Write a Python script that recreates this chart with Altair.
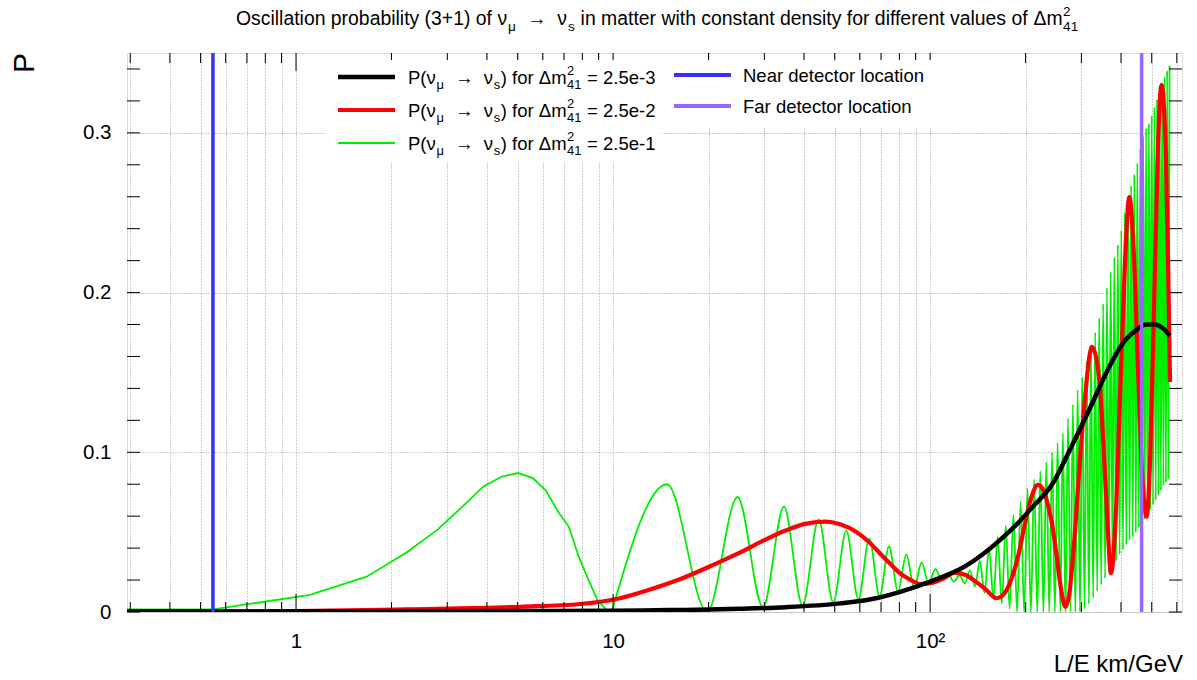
import altair as alt
import pandas as pd

FONT = "Liberation Sans"
W, H = 1055, 559            # plot frame size in pixels
X_DOMAIN = [0.293, 623]     # L/E range (log axis)
Y_DOMAIN = [0, 0.35]

# ---------------- data ----------------
black_le = [0.293, 1, 5, 10, 15, 20, 25, 35, 52, 65, 80, 100, 130, 166, 190, 211, 241,
            283, 320, 358, 390, 416, 450, 480, 510, 540, 571]
black_p = [0.0003, 0.0004, 0.0006, 0.0008, 0.0012, 0.0015, 0.002, 0.003, 0.0054, 0.008,
           0.0125, 0.019, 0.029, 0.045, 0.056, 0.066, 0.079, 0.106, 0.128, 0.149, 0.163,
           0.171, 0.177, 0.180, 0.180, 0.178, 0.173]

red_le = [0.293, 1, 2.23, 5.1, 7.9, 10.5, 12.8, 16, 20.7, 25, 30, 35, 40, 46.7, 52, 58.7,
          64, 69.4, 75, 80.3, 87, 93.4, 101.9, 110, 119.8, 130, 139.4, 150, 162, 172, 180,
          190, 198, 208, 218.7, 228, 236, 242, 250, 258, 267, 275, 285, 298, 310, 318, 324,
          335, 345, 352, 358, 365, 372, 385, 398, 412, 425, 440, 453, 467, 482, 495, 509,
          523, 537, 545, 555, 563, 571]
red_p = [0.0, 0.0005, 0.0017, 0.0033, 0.005, 0.0086, 0.0135, 0.02, 0.0295, 0.037, 0.045,
         0.051, 0.055, 0.0566, 0.055, 0.050, 0.044, 0.0368, 0.030, 0.0243, 0.020, 0.0175,
         0.0184, 0.021, 0.0247, 0.023, 0.019, 0.014, 0.0086, 0.012, 0.020, 0.036, 0.053,
         0.071, 0.0796, 0.076, 0.066, 0.056, 0.037, 0.016, 0.0033, 0.012, 0.045, 0.0995,
         0.14, 0.16, 0.166, 0.158, 0.135, 0.105, 0.078, 0.045, 0.0243, 0.06, 0.14, 0.22,
         0.260, 0.22, 0.15, 0.085, 0.0597, 0.10, 0.195, 0.29, 0.330, 0.32, 0.28, 0.22, 0.144]

# first (coarsely sampled, drawn as a polyline) part of the green curve
green_early_le = [0.293, 0.548, 1.106, 1.67, 2.23, 2.79, 3.35, 3.9, 4.46, 5.02, 5.58, 6.14,
                  6.7, 7.25, 7.8, 8.37, 8.93, 9.5, 9.9]
green_early_p = [0.0017, 0.0017, 0.0107, 0.0221, 0.0372, 0.0514, 0.066, 0.0786, 0.0848,
                 0.087, 0.0838, 0.076, 0.0629, 0.0535, 0.0343, 0.020, 0.0075, 0.0017, 0.0]

# fast oscillations: maxima and minima of the green curve
green_peak_le = [14.8, 24.7, 34.6, 44.5, 54.4, 64.3, 74.2, 84.1, 94.0, 103.9, 113.8, 123.7,
                 133.6, 143.5, 153.4, 163.3, 173.2, 183.1, 193.0, 202.9, 212.8, 222.7, 232.6,
                 242.5, 252.4, 262.3, 272.2, 282.1, 292.0, 301.9, 311.8, 321.7, 331.6, 341.5,
                 351.4, 361.3, 371.2, 381.1, 391.0, 400.9, 410.8, 420.7, 430.6, 440.5, 450.4,
                 460.3, 470.2, 480.1, 490.0, 499.9, 509.8, 519.7, 529.6, 539.5, 549.4, 559.3,
                 569.2]
green_peak_p = [0.080, 0.072, 0.066, 0.058, 0.051, 0.046, 0.041, 0.036, 0.031, 0.027, 0.024,
                0.023, 0.026, 0.032, 0.040, 0.047, 0.054, 0.061, 0.069, 0.077, 0.083, 0.088,
                0.094, 0.100, 0.106, 0.112, 0.121, 0.130, 0.139, 0.147, 0.157, 0.166, 0.175,
                0.184, 0.193, 0.203, 0.213, 0.222, 0.230, 0.239, 0.250, 0.260, 0.267, 0.274,
                0.281, 0.290, 0.298, 0.303, 0.306, 0.311, 0.316, 0.321, 0.326, 0.331, 0.335,
                0.339, 0.342]
green_trough_le = [9.9, 19.8, 29.7, 39.6, 49.5, 59.4, 69.3, 79.2, 89.1, 99.0, 108.9, 118.8,
                   128.7, 138.6, 148.5, 158.4, 168.3, 178.2, 188.1, 198.0, 207.9, 217.8,
                   227.7, 237.6, 247.5, 257.4, 267.3, 277.2, 287.1, 297.0, 306.9, 316.8,
                   326.7, 336.6, 346.5, 356.4, 366.3, 376.2, 386.1, 396.0, 405.9, 415.8,
                   425.7, 435.6, 445.5, 455.4, 465.3, 475.2, 485.1, 495.0, 504.9, 514.8,
                   524.7, 534.6, 544.5, 554.4, 564.3]
green_trough_p = [0.0, 0.0, 0.003, 0.004, 0.006, 0.008, 0.010, 0.013, 0.015, 0.018, 0.020,
                  0.019, 0.018, 0.016, 0.012, 0.008, 0.005, 0.002, 0.0, 0.0, 0.0, 0.0, 0.0,
                  0.0, 0.0, 0.0, 0.0, 0.0, 0.0, 0.0, 0.002, 0.005, 0.009, 0.013, 0.017, 0.021,
                  0.025, 0.028, 0.032, 0.036, 0.039, 0.042, 0.045, 0.047, 0.050, 0.053, 0.055,
                  0.058, 0.061, 0.064, 0.067, 0.070, 0.073, 0.076, 0.079, 0.081, 0.084]

NEAR_LE = 0.547
FAR_LE = 464.6

x_minor_ticks = [0.3, 0.4, 0.5, 0.6, 0.7, 0.8, 0.9, 2, 3, 4, 5, 6, 7, 8, 9,
                 20, 30, 40, 50, 60, 70, 80, 90, 200, 300, 400, 500, 600]
x_major_ticks = [1, 10, 100]
x_grid = sorted(x_minor_ticks + x_major_ticks)
y_ticks = [0.0, 0.02, 0.04, 0.06, 0.08, 0.1, 0.12, 0.14, 0.16, 0.18, 0.2, 0.22, 0.24,
           0.26, 0.28, 0.3, 0.32, 0.34]
y_labels = [0, 0.1, 0.2, 0.3]

BLUE = "#3333ff"
VIOLET = "#9966ff"
GREEN = "#00ee00"
RED = "#ff0000"

# ---------------- scales ----------------
xs = alt.Scale(type="log", domain=X_DOMAIN, nice=False)
ys = alt.Scale(domain=Y_DOMAIN, nice=False, zero=False)
pxs = alt.Scale(domain=[0, W], range=[0, W], nice=False, zero=False)
pys = alt.Scale(domain=[0, H], range=[0, H], nice=False, zero=False)

black_df = pd.DataFrame({"le": black_le, "p": black_p})
red_df = pd.DataFrame({"le": red_le, "p": red_p})
green_early_df = pd.DataFrame({"le": green_early_le, "p": green_early_p})
green_osc_df = pd.DataFrame({
    "le": green_peak_le + green_trough_le,
    "p": green_peak_p + green_trough_p,
}).sort_values("le")

GRID = "#9a9a9a"
x_axis = alt.Axis(values=x_grid, grid=True, gridDash=[1, 2], gridColor=GRID,
                  gridWidth=1, ticks=False, domain=False,
                  labelExpr="datum.value == 1 ? '1' : datum.value == 10 ? '10' : datum.value == 100 ? '10²' : ''",
                  labelFont=FONT, labelFontSize=20.5, labelColor="black", labelPadding=19,
                  labelOverlap=False, labelFlush=False, title=None)
y_axis = alt.Axis(values=y_labels, grid=True, gridDash=[1, 2], gridColor=GRID,
                  gridWidth=1, ticks=False, domain=False,
                  labelExpr="datum.value == 0 ? '0' : format(datum.value, '.1f')",
                  labelFont=FONT, labelFontSize=20.5, labelColor="black", labelPadding=16,
                  labelOverlap=False, labelFlush=False, title=None)


def curve(df, color, width, interp="monotone", axes=False):
    return alt.Chart(df).mark_line(color=color, strokeWidth=width, interpolate=interp,
                                   clip=True).encode(
        x=alt.X("le:Q", scale=xs, axis=x_axis if axes else None),
        y=alt.Y("p:Q", scale=ys, axis=y_axis if axes else None),
    )


green_a = curve(green_early_df, GREEN, 1.8, interp="linear")
green_b = curve(green_osc_df, GREEN, 1.8)
red = curve(red_df, RED, 4.2)
black = curve(black_df, "black", 4.5, axes=True)


def vline(le, color):
    return alt.Chart(pd.DataFrame({"le": [le]})).mark_rule(color=color, strokeWidth=3.5).encode(
        x=alt.X("le:Q", scale=xs, axis=None), y=alt.value(0), y2=alt.value(H))


near = vline(NEAR_LE, BLUE)
far = vline(FAR_LE, VIOLET)


# ---------------- ticks (inside the frame, ROOT style) ----------------
def xticks(vals, length):
    d = pd.DataFrame({"v": vals})
    bot = alt.Chart(d).mark_rule(color="black", strokeWidth=1).encode(
        x=alt.X("v:Q", scale=xs, axis=None), y=alt.value(H), y2=alt.value(H - length))
    top = alt.Chart(d).mark_rule(color="black", strokeWidth=1).encode(
        x=alt.X("v:Q", scale=xs, axis=None), y=alt.value(0), y2=alt.value(length))
    return [bot, top]


ytd = pd.DataFrame({"v": y_ticks})
ytick_l = alt.Chart(ytd).mark_rule(color="black", strokeWidth=1).encode(
    y=alt.Y("v:Q", scale=ys, axis=None), x=alt.value(0), x2=alt.value(13))
ytick_r = alt.Chart(ytd).mark_rule(color="black", strokeWidth=1).encode(
    y=alt.Y("v:Q", scale=ys, axis=None), x=alt.value(W), x2=alt.value(W - 13))

# ---------------- text layout helpers (pixel space) ----------------
AW = {' ': 278, '(': 333, ')': 333, '+': 584, '-': 333, '.': 278, '/': 278, '=': 584,
      'O': 778, 'P': 667, 'F': 611, 'N': 722, 'D': 722, 'E': 667, 'G': 778, 'L': 556,
      'V': 667, 'a': 556, 'b': 556, 'c': 500, 'd': 556, 'e': 556, 'f': 278, 'g': 556,
      'h': 556, 'i': 222, 'k': 500, 'l': 222, 'm': 833, 'n': 556, 'o': 556, 'p': 556,
      'r': 333, 's': 500, 't': 278, 'u': 556, 'v': 500, 'w': 722, 'y': 500,
      'ν': 520, 'μ': 577, 'Δ': 668, '→': 1000}


def tw(s, fs):
    return sum(AW.get(c, 556) for c in s) * fs / 1000.0


def rich(x0, y0, fs, segs):
    rows = []
    x = x0
    for kind, txt in segs:
        if kind == "subsup":
            sup, sub = txt
            s = fs * 0.7
            rows.append(dict(px=x + 0.5, py=y0 - 0.45 * fs, t=sup, fs=s))
            rows.append(dict(px=x + 0.5, py=y0 + 0.3 * fs, t=sub, fs=s))
            x += max(tw(sup, s), tw(sub, s)) + 1
            continue
        s = fs if kind == "n" else fs * 0.7
        dy = 0 if kind == "n" else 0.3 * fs
        lead = len(txt) - len(txt.lstrip(" "))
        body = txt.strip(" ")
        xo = x + tw(" " * lead, s) + (0.5 if kind != "n" else 0)
        if body:
            rows.append(dict(px=xo, py=y0 + dy, t=body, fs=s))
        x += tw(txt, s) + (1 if kind != "n" else 0)
    return rows


LEFT, TOP = 127, 53
texts = []
texts += rich(236 - LEFT, 25 - TOP, 19.4, [
    ("n", "Oscillation probability (3+1) of "), ("n", "ν"), ("sub", "μ"), ("n", "  →  "),
    ("n", "ν"), ("sub", "s"), ("n", " in matter with constant density for different values of "),
    ("n", "Δm"), ("subsup", ("2", "41"))])

LFS = 18.5
leg_rows = [("2.5e-3", 77), ("2.5e-2", 110), ("2.5e-1", 143)]
for val, yc in leg_rows:
    texts += rich(408 - LEFT, yc + 0.36 * LFS - TOP, LFS, [
        ("n", "P("), ("n", "ν"), ("sub", "μ"), ("n", "  →  "), ("n", "ν"), ("sub", "s"),
        ("n", ") for "), ("n", "Δm"), ("subsup", ("2", "41")), ("n", " = " + val)])
texts += rich(743 - LEFT, 75 + 0.36 * LFS - TOP, LFS, [("n", "Near detector location")])
texts += rich(743 - LEFT, 106 + 0.36 * LFS - TOP, LFS, [("n", "Far detector location")])
text_df = pd.DataFrame(texts)

text_layer = alt.Chart(text_df).mark_text(align="left", baseline="alphabetic", font=FONT,
                                          color="black").encode(
    x=alt.X("px:Q", scale=pxs, axis=None),
    y=alt.Y("py:Q", scale=pys, axis=None),
    text="t:N",
    size=alt.Size("fs:Q", scale=None, legend=None),
)

# legend boxes and sample lines (pixel space)
box_df = pd.DataFrame({"x1": [326 - LEFT, 662 - LEFT], "x2": [662 - LEFT, 950 - LEFT],
                       "y1": [60 - TOP, 60 - TOP], "y2": [162 - TOP, 128 - TOP]})
boxes = alt.Chart(box_df).mark_rect(fill="white").encode(
    x=alt.X("x1:Q", scale=pxs, axis=None), x2="x2:Q",
    y=alt.Y("y1:Q", scale=pys, axis=None), y2="y2:Q")

samp_df = pd.DataFrame({
    "x1": [338 - LEFT, 338 - LEFT, 338 - LEFT, 674 - LEFT, 674 - LEFT],
    "x2": [395 - LEFT, 395 - LEFT, 395 - LEFT, 731 - LEFT, 731 - LEFT],
    "y": [77 - TOP, 110 - TOP, 143 - TOP, 75 - TOP, 106 - TOP],
    "c": ["black", RED, GREEN, BLUE, VIOLET],
    "w": [4.5, 4.2, 2.0, 4.0, 4.0],
})
samples = alt.Chart(samp_df).mark_rule().encode(
    x=alt.X("x1:Q", scale=pxs, axis=None), x2="x2:Q",
    y=alt.Y("y:Q", scale=pys, axis=None),
    color=alt.Color("c:N", scale=None, legend=None),
    strokeWidth=alt.StrokeWidth("w:Q", scale=None, legend=None),
)

one = pd.DataFrame({"a": [0]})
xtitle = alt.Chart(one).mark_text(align="right", baseline="alphabetic", font=FONT,
                                  fontSize=24, color="black", text="L/E km/GeV").encode(
    x=alt.value(W + 1), y=alt.value(619))
ytitle = alt.Chart(one).mark_text(align="right", baseline="alphabetic", font=FONT,
                                  fontSize=30, color="black", angle=270, text="P").encode(
    x=alt.value(-93), y=alt.value(0))

chart = alt.layer(
    green_a, green_b, red, black, near, far,
    *xticks(x_minor_ticks, 10), *xticks(x_major_ticks, 18),
    ytick_l, ytick_r,
    boxes, samples, text_layer, xtitle, ytitle,
).resolve_scale(x="independent", y="independent").properties(
    width=W, height=H,
    padding={"left": LEFT, "top": TOP, "right": 1197 - LEFT - W, "bottom": 680 - TOP - H},
    autosize=alt.AutoSizeParams(type="none"),
).configure_view(stroke="black", strokeWidth=2).configure(background="white")

chart.save("out.html", embed_options={"renderer": "svg", "actions": False})
